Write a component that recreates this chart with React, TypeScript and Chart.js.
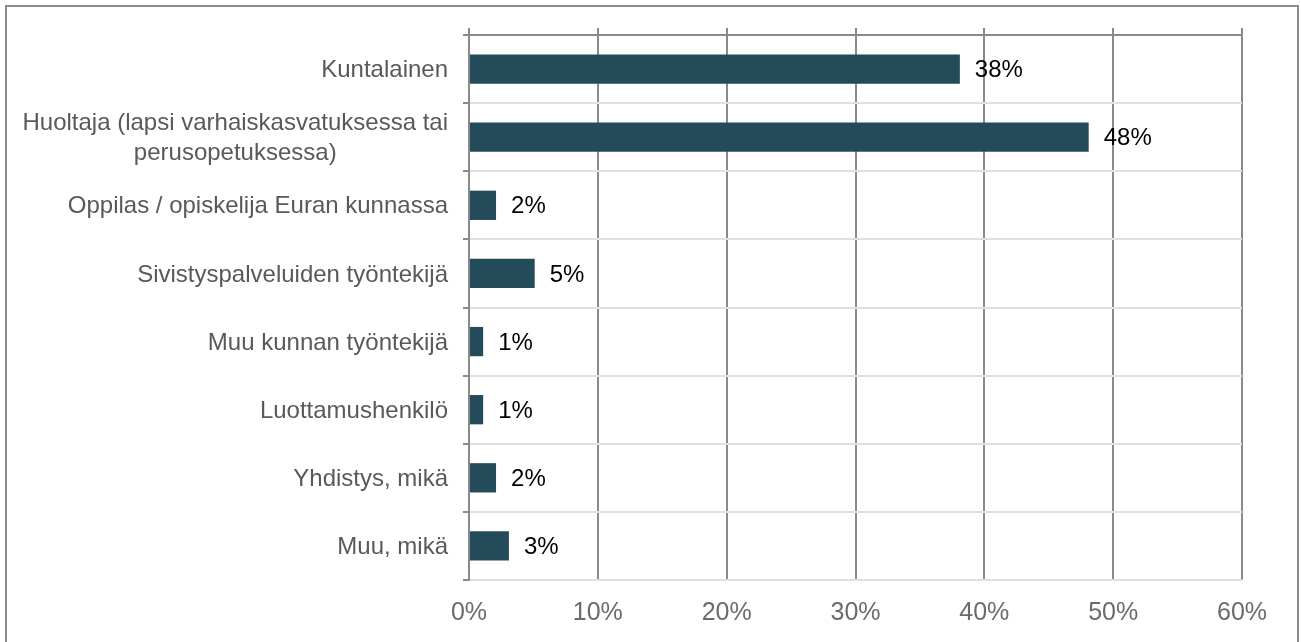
import React, { useEffect, useRef } from 'react';
import { Chart, registerables } from 'chart.js';

Chart.register(...registerables);

const categories: (string | string[])[] = [
  'Kuntalainen',
  ['Huoltaja (lapsi varhaiskasvatuksessa tai', 'perusopetuksessa)'],
  'Oppilas / opiskelija Euran kunnassa',
  'Sivistyspalveluiden työntekijä',
  'Muu kunnan työntekijä',
  'Luottamushenkilö',
  'Yhdistys, mikä',
  'Muu, mikä',
];
const values = [38.1, 48.1, 2.1, 5.1, 1.1, 1.1, 2.1, 3.1];
const valueLabels = ['38%', '48%', '2%', '5%', '1%', '1%', '2%', '3%'];
const xMin = 0;
const xMax = 60;
const xStep = 10;

const FONT = '"Liberation Sans", Arial, sans-serif';
const DARK = '#8a8a8a';
const LIGHT = '#e0e0e0';

const yLabelPlugin = {
  id: 'yLabels',
  afterDraw(chart: any) {
    const ctx = chart.ctx as CanvasRenderingContext2D;
    const y = chart.scales.y;
    ctx.save();
    ctx.font = `24px ${FONT}`;
    ctx.fillStyle = '#595959';
    ctx.textBaseline = 'middle';
    ctx.textAlign = 'center';
    const right = y.right - 21;
    (chart.data.labels as (string | string[])[]).forEach((lab, i) => {
      const py = y.getPixelForTick(i) + 1.5;
      const lines = Array.isArray(lab) ? lab : [lab];
      const maxW = Math.max(...lines.map((l) => ctx.measureText(l).width));
      const lh = 30;
      lines.forEach((l, j) => {
        const ly = py + (j - (lines.length - 1) / 2) * lh;
        ctx.fillText(l, right - maxW / 2, ly);
      });
    });
    ctx.restore();
  },
};

const valueLabelPlugin = {
  id: 'valueLabels',
  afterDatasetsDraw(chart: any) {
    const ctx = chart.ctx as CanvasRenderingContext2D;
    const meta = chart.getDatasetMeta(0);
    ctx.save();
    ctx.font = `24px ${FONT}`;
    ctx.fillStyle = '#000000';
    ctx.textBaseline = 'middle';
    ctx.textAlign = 'left';
    meta.data.forEach((bar: any, i: number) => {
      ctx.fillText(valueLabels[i], bar.x + 15, bar.y + 1.5);
    });
    ctx.restore();
  },
};

export default function App() {
  const canvasRef = useRef<HTMLCanvasElement | null>(null);

  useEffect(() => {
    if (!canvasRef.current) return;
    const chart = new Chart(canvasRef.current, {
      type: 'bar',
      data: {
        labels: categories,
        datasets: [
          {
            data: values,
            backgroundColor: '#244b5a',
            borderWidth: 0,
            barPercentage: 0.43,
            categoryPercentage: 1,
            xAxisID: 'x',
          },
        ],
      },
      options: {
        indexAxis: 'y',
        responsive: false,
        animation: false,
        events: [],
        layout: { padding: { top: 28, right: 59, bottom: 0, left: 0 } },
        plugins: {
          legend: { display: false },
          tooltip: { enabled: false },
          title: { display: false },
        },
        scales: {
          x: {
            type: 'linear',
            position: 'bottom',
            min: xMin,
            max: xMax,
            ticks: {
              stepSize: xStep,
              color: '#6b6b6b',
              font: { size: 25, family: FONT },
              padding: 18,
              callback: (v: any) => `${v}%`,
            },
            grid: { color: DARK, lineWidth: 2, drawTicks: false },
            border: { display: false },
            afterFit: (s: any) => {
              s.height = 62;
            },
          },
          x2: {
            type: 'linear',
            position: 'top',
            min: xMin,
            max: xMax,
            ticks: { stepSize: xStep, display: false },
            grid: {
              drawOnChartArea: false,
              drawTicks: true,
              tickLength: 7,
              tickColor: DARK,
              tickWidth: 2,
              color: DARK,
              lineWidth: 2,
            },
            border: { display: true, color: DARK, width: 2 },
            afterFit: (s: any) => {
              s.height = 7;
            },
          },
          y: {
            type: 'category',
            position: 'left',
            ticks: { display: false },
            grid: {
              offset: true,
              color: (c: any) => (c.index === 0 ? DARK : LIGHT),
              lineWidth: 2,
              drawTicks: true,
              tickLength: 6,
              tickColor: DARK,
              tickWidth: 2,
            },
            border: { display: true, color: DARK, width: 2 },
            afterFit: (s: any) => {
              s.width = 469;
            },
          },
        },
      },
      plugins: [yLabelPlugin, valueLabelPlugin],
    });
    return () => chart.destroy();
  }, []);

  return (
    <div
      style={{
        position: 'fixed',
        left: 0,
        top: 0,
        width: 1301,
        height: 642,
        overflow: 'hidden',
        background: '#ffffff',
      }}
    >
      <div
        style={{
          position: 'absolute',
          left: 5,
          top: 5,
          width: 1290,
          height: 700,
          border: '2px solid #8c8c8c',
          boxSizing: 'content-box',
        }}
      />
      <canvas
        ref={canvasRef}
        width={1301}
        height={642}
        style={{ position: 'absolute', left: 0, top: 0, width: 1301, height: 642 }}
      />
    </div>
  );
}
